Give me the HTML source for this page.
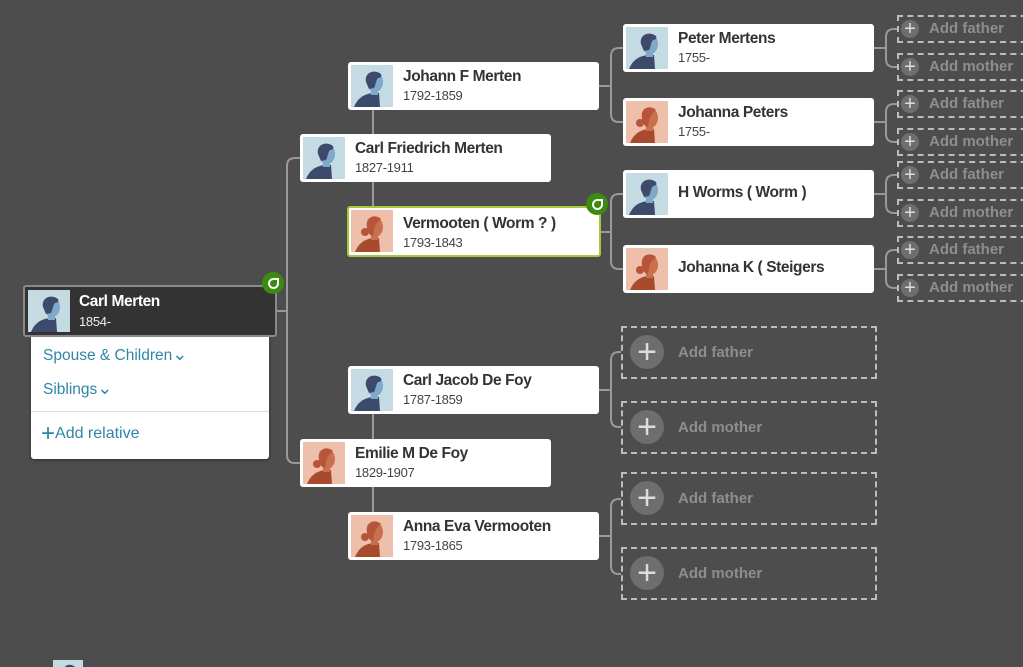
<!DOCTYPE html>
<html style="overflow:hidden;height:667px"><head><meta charset="utf-8"><style>
body{margin:0;width:1023px;height:667px;background:#4d4d4d;position:relative;overflow:hidden;font-family:"Liberation Sans",sans-serif}
.c{position:absolute;background:#fff;border-radius:3px;box-sizing:border-box;height:48px;width:251px}
.c svg{position:absolute;left:3px;top:3px;width:42px;height:42px}
.n{position:absolute;left:55px;top:6px;font-size:15.5px;font-weight:bold;color:#333;letter-spacing:-0.4px;white-space:nowrap}
.d{position:absolute;left:55px;top:26px;font-size:13px;color:#444;letter-spacing:-0.3px}
.n1{top:14px}
.ab{position:absolute;border:2px dashed #bdbdb5;box-sizing:border-box}
.pl{position:absolute;border-radius:50%;background:#6e6e6e;color:#ddd;text-align:center;font-weight:normal}
.at{position:absolute;color:#8e8e8e;font-weight:bold;font-size:15px;white-space:nowrap}
.g{position:absolute;width:22px;height:22px;border-radius:50%;background:#3c8a0e}
.g:after{content:"";position:absolute;left:6px;top:6px;width:7px;height:7px;border:2px solid #fff;border-radius:50% 0 50% 50%}
</style></head><body>
<svg width="0" height="0" style="position:absolute"><defs>
<symbol id="m" viewBox="0 0 42 42"><rect width="42" height="42" fill="#c5dbe4"/><path d="M3 42 C7 32 14 29 22 28 L28 28 L29 42Z" fill="#3d4a6b"/><rect x="20" y="21" width="7" height="9" fill="#7fa8c9"/><ellipse cx="24" cy="17" rx="8" ry="10" fill="#7fa8c9"/><path d="M15 17 C13 7 24 4 30 9 C31 11 30 13 27 13 C25 15 25 19 23 23 L18 24Z" fill="#3d4a6b"/></symbol>
<symbol id="f" viewBox="0 0 42 42"><rect width="42" height="42" fill="#eebfaa"/><path d="M4 42 C8 32 15 29 22 28 L28 28 L29 42Z" fill="#a84a2e"/><rect x="20" y="21" width="7" height="9" fill="#c9704f"/><ellipse cx="24" cy="17" rx="8" ry="10" fill="#c9704f"/><path d="M16 17 C14 6 25 4 30 9 C27 12 24 14 23 20 L22 26 C18 25 16 21 16 17Z" fill="#b8543a"/><circle cx="14" cy="22" r="4" fill="#b8543a"/></symbol>
</defs></svg>

<svg width="1023" height="667" style="position:absolute;left:0;top:0" fill="none" stroke="#999" stroke-width="2">
<path d="M277 311 H287 M300 158 H295 Q287 158 287 166 V455 Q287 463 295 463 H300"/>
<path d="M373 110 V134 M373 182 V206 M373 413 V439 M373 487 V512"/>
<path d="M599 86 H611 M623 48 H619 Q611 48 611 56 V114 Q611 122 619 122 H623"/>
<path d="M601 232 H611 M623 194 H619 Q611 194 611 202 V261 Q611 269 619 269 H623"/>
<path d="M599 390 H611 M621 352 H619 Q611 352 611 360 V419 Q611 427 619 427 H621"/>
<path d="M599 536 H611 M621 499 H619 Q611 499 611 507 V566 Q611 574 619 574 H621"/>
<path d="M874 48 H886 M899 29 H894 Q886 29 886 37 V59 Q886 67 894 67 H899"/>
<path d="M874 122 H886 M899 104 H894 Q886 104 886 112 V134 Q886 142 894 142 H899"/>
<path d="M874 194 H886 M899 175 H894 Q886 175 886 183 V205 Q886 213 894 213 H899"/>
<path d="M874 269 H886 M899 250 H894 Q886 250 886 258 V280 Q886 288 894 288 H899"/>
</svg>

<div style="position:absolute;left:31px;top:334px;width:238px;height:125px;background:#fff;border-radius:3px;box-shadow:0 1px 3px rgba(0,0,0,.4)">
<div style="position:absolute;left:12px;top:10px;color:#2f86a8;font-size:15.5px">Spouse &amp; Children<span style="font-size:18px">⌄</span></div>
<div style="position:absolute;left:12px;top:44px;color:#2f86a8;font-size:15.5px">Siblings<span style="font-size:18px">⌄</span></div>
<div style="position:absolute;left:0;top:77px;width:238px;border-top:1px solid #ddd"></div>
<div style="position:absolute;left:10px;top:91px;color:#2f86a8;font-size:16px"><span style="font-size:24px;line-height:16px;vertical-align:-3px">+</span>Add relative</div>
</div>
<div class="c" style="left:23px;top:285px;width:254px;height:52px;background:#333;border:2px solid #8a8a8a">
<svg style="left:3px;top:3px"><use href="#m"/></svg>
<div class="n" style="color:#fff;left:54px;top:6px">Carl Merten</div><div class="d" style="color:#eee;left:54px;top:27px">1854-</div></div>
<div class="g" style="left:262px;top:272px"></div>

<div class="c" style="left:348px;top:62px"><svg><use href="#m"/></svg><div class="n">Johann F Merten</div><div class="d">1792-1859</div></div>
<div class="c" style="left:300px;top:134px"><svg><use href="#m"/></svg><div class="n">Carl Friedrich Merten</div><div class="d">1827-1911</div></div>
<div class="c" style="left:347px;top:206px;width:254px;height:51px;border:2px solid #a6c93a"><svg style="left:2px;top:2px"><use href="#f"/></svg><div class="n" style="left:54px;top:7px">Vermooten ( Worm ? )</div><div class="d" style="left:54px;top:27px">1793-1843</div></div>
<div class="g" style="left:586px;top:193px"></div>
<div class="c" style="left:348px;top:366px"><svg><use href="#m"/></svg><div class="n">Carl Jacob De Foy</div><div class="d">1787-1859</div></div>
<div class="c" style="left:300px;top:439px"><svg><use href="#f"/></svg><div class="n">Emilie M De Foy</div><div class="d">1829-1907</div></div>
<div class="c" style="left:348px;top:512px"><svg><use href="#f"/></svg><div class="n">Anna Eva Vermooten</div><div class="d">1793-1865</div></div>

<div class="c" style="left:623px;top:24px"><svg><use href="#m"/></svg><div class="n">Peter Mertens</div><div class="d">1755-</div></div>
<div class="c" style="left:623px;top:98px"><svg><use href="#f"/></svg><div class="n">Johanna Peters</div><div class="d">1755-</div></div>
<div class="c" style="left:623px;top:170px"><svg><use href="#m"/></svg><div class="n n1">H Worms ( Worm )</div></div>
<div class="c" style="left:623px;top:245px"><svg><use href="#f"/></svg><div class="n n1">Johanna K ( Steigers</div></div>

<div class="ab" style="left:897px;top:15px;width:140px;height:28px"></div><div class="pl" style="left:901px;top:20px;width:18px;height:18px;font-size:20px;line-height:18px">+</div><div class="at" style="left:929px;top:20px">Add father</div>
<div class="ab" style="left:897px;top:53px;width:140px;height:28px"></div><div class="pl" style="left:901px;top:58px;width:18px;height:18px;font-size:20px;line-height:18px">+</div><div class="at" style="left:929px;top:58px">Add mother</div>
<div class="ab" style="left:897px;top:90px;width:140px;height:28px"></div><div class="pl" style="left:901px;top:95px;width:18px;height:18px;font-size:20px;line-height:18px">+</div><div class="at" style="left:929px;top:95px">Add father</div>
<div class="ab" style="left:897px;top:128px;width:140px;height:28px"></div><div class="pl" style="left:901px;top:133px;width:18px;height:18px;font-size:20px;line-height:18px">+</div><div class="at" style="left:929px;top:133px">Add mother</div>
<div class="ab" style="left:897px;top:161px;width:140px;height:28px"></div><div class="pl" style="left:901px;top:166px;width:18px;height:18px;font-size:20px;line-height:18px">+</div><div class="at" style="left:929px;top:166px">Add father</div>
<div class="ab" style="left:897px;top:199px;width:140px;height:28px"></div><div class="pl" style="left:901px;top:204px;width:18px;height:18px;font-size:20px;line-height:18px">+</div><div class="at" style="left:929px;top:204px">Add mother</div>
<div class="ab" style="left:897px;top:236px;width:140px;height:28px"></div><div class="pl" style="left:901px;top:241px;width:18px;height:18px;font-size:20px;line-height:18px">+</div><div class="at" style="left:929px;top:241px">Add father</div>
<div class="ab" style="left:897px;top:274px;width:140px;height:28px"></div><div class="pl" style="left:901px;top:279px;width:18px;height:18px;font-size:20px;line-height:18px">+</div><div class="at" style="left:929px;top:279px">Add mother</div>

<div class="ab" style="left:621px;top:326px;width:256px;height:53px"></div><div class="pl" style="left:630px;top:335px;width:34px;height:34px;font-size:34px;line-height:34px">+</div><div class="at" style="left:678px;top:344px">Add father</div>
<div class="ab" style="left:621px;top:401px;width:256px;height:53px"></div><div class="pl" style="left:630px;top:410px;width:34px;height:34px;font-size:34px;line-height:34px">+</div><div class="at" style="left:678px;top:419px">Add mother</div>
<div class="ab" style="left:621px;top:472px;width:256px;height:53px"></div><div class="pl" style="left:630px;top:481px;width:34px;height:34px;font-size:34px;line-height:34px">+</div><div class="at" style="left:678px;top:490px">Add father</div>
<div class="ab" style="left:621px;top:547px;width:256px;height:53px"></div><div class="pl" style="left:630px;top:556px;width:34px;height:34px;font-size:34px;line-height:34px">+</div><div class="at" style="left:678px;top:565px">Add mother</div>

<div style="position:absolute;left:53px;top:660px;width:30px;height:7px;overflow:hidden"><svg style="width:30px;height:30px;display:block"><use href="#m"/></svg></div>
</body></html>
